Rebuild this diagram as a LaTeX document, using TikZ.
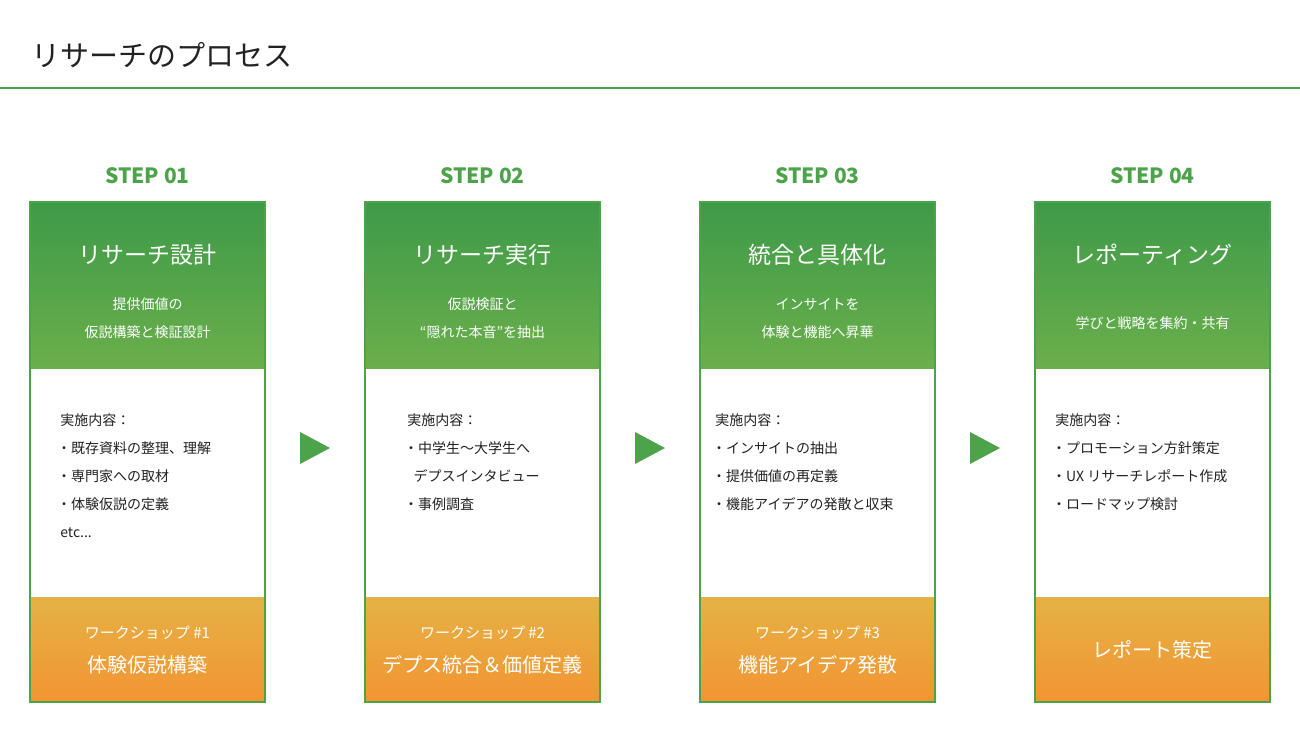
\documentclass[tikz,border=0pt]{standalone}
\usepackage{fontspec}
\setmainfont{Noto Sans CJK JP}
\usetikzlibrary{positioning}
\definecolor{gtop}{HTML}{3E9A48}
\definecolor{gbot}{HTML}{6BAF4C}
\definecolor{otop}{HTML}{E5B245}
\definecolor{obot}{HTML}{F29432}
\definecolor{bd}{HTML}{4CA34A}
\definecolor{txt}{HTML}{222222}
\begin{document}
\begin{tikzpicture}[x=1pt,y=-1pt,
  steplbl/.style={font=\fontsize{21}{24}\selectfont\bfseries, text=bd},
  htitle/.style={font=\fontsize{23}{26}\selectfont, text=white},
  hsub/.style={font=\fontsize{14}{28}\selectfont, text=white, align=center},
  body/.style={font=\fontsize{14}{28}\selectfont, text=txt, align=left, anchor=north west, inner sep=0pt},
  ws1/.style={font=\fontsize{15}{18}\selectfont, text=white},
  ws2/.style={font=\fontsize{20}{24}\selectfont, text=white},
  arr/.style={fill=bd, draw=none}]
\useasboundingbox (0,0) rectangle (1300,750);
\fill[white] (0,0) rectangle (1300,750);
\node[anchor=west, inner sep=0pt, text=txt, font=\fontsize{29}{32}\selectfont] (title) at (31,55) {リサーチのプロセス};
\draw[bd, line width=1.5pt] (0,88) -- (1300,88);
\foreach \x/\n in {30/1,365/2,700/3,1035/4}{
  \shade[top color=gtop, bottom color=gbot] (\x,202) rectangle (\x+235,368);
  \shade[top color=otop, bottom color=obot] (\x,597) rectangle (\x+235,702);
  \draw[bd, line width=1.5pt] (\x,202) rectangle (\x+235,702);
  \node[steplbl] (s\n) at (\x+117.5,176) {STEP 0\n};
}
\node[htitle] (h1) at (147.5,255) {リサーチ設計};
\node[htitle] (h2) at (482.5,255) {リサーチ実行};
\node[htitle] (h3) at (817.5,255) {統合と具体化};
\node[htitle] (h4) at (1152.5,255) {レポーティング};
\node[hsub] (u1) at (147.5,318) {提供価値の\\仮説構築と検証設計};
\node[hsub] (u2) at (482.5,318) {仮説検証と\\“隠れた本音”を抽出};
\node[hsub] (u3) at (817.5,318) {インサイトを\\体験と機能へ昇華};
\node[hsub] (u4) at (1152.5,323) {学びと戦略を集約・共有};
\node[body] (b1) at (57,414) {\ 実施内容：\\・既存資料の整理、理解\\・専門家への取材\\・体験仮説の定義\\\ etc...};
\node[body] (b2) at (404,414) {\ 実施内容：\\・中学生〜大学生へ\\\ \ \ デプスインタビュー\\・事例調査};
\node[body] (b3) at (712,414) {\ 実施内容：\\・インサイトの抽出\\・提供価値の再定義\\・機能アイデアの発散と収束};
\node[body] (b4) at (1052,414) {\ 実施内容：\\・プロモーション方針策定\\・UX リサーチレポート作成\\・ロードマップ検討};
\node[ws1] (w1a) at (147.5,633) {ワークショップ \#1};
\node[ws2] (w1b) at (147.5,665) {体験仮説構築};
\node[ws1] (w2a) at (482.5,633) {ワークショップ \#2};
\node[ws2] (w2b) at (482.5,665) {デプス統合＆価値定義};
\node[ws1] (w3a) at (817.5,633) {ワークショップ \#3};
\node[ws2] (w3b) at (817.5,665) {機能アイデア発散};
\node[ws2] (w4b) at (1152.5,650) {レポート策定};
\foreach \x in {300,635,970}{
  \fill[arr] (\x,432) -- (\x+30,448) -- (\x,464) -- cycle;
}
\end{tikzpicture}
\end{document}
